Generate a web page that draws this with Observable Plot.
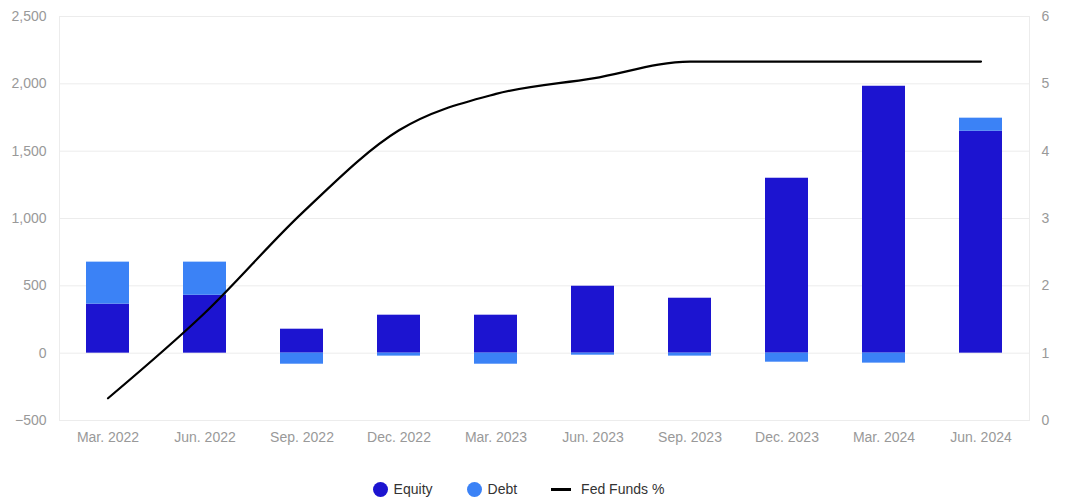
<!DOCTYPE html>
<html><head><meta charset="utf-8">
<script src="https://cdn.jsdelivr.net/npm/d3@7"></script>
<script src="https://cdn.jsdelivr.net/npm/@observablehq/plot@0.6"></script>
<style>
body{margin:0;background:#fff;font-family:"Liberation Sans",Arial,sans-serif;}
#legend{display:flex;justify-content:center;gap:34px;margin-top:21px;font-size:14px;color:#333;padding-right:34px}
#legend span{display:flex;align-items:center;gap:6px}
.dot{width:15px;height:15px;border-radius:50%;display:inline-block}
.ln{width:20px;height:3px;background:#000;display:inline-block;margin-right:4px}
</style></head>
<body>
<div id="chart"></div>
<div id="legend"></div>
<script>
const quarters = ["Mar. 2022","Jun. 2022","Sep. 2022","Dec. 2022","Mar. 2023","Jun. 2023","Sep. 2023","Dec. 2023","Mar. 2024","Jun. 2024"];
const equity = [364, 430, 178, 282, 282, 497, 408, 1299, 1982, 1648];
const debt = [312, 246, -82, -22, -82, -15, -22, -67, -74, 97];
const fedFunds = [0.33, 1.60, 3.08, 4.31, 4.85, 5.08, 5.33, 5.33, 5.33, 5.33];
const leftTicks = [-500, 0, 500, 1000, 1500, 2000, 2500];
const rightTicks = [0, 1, 2, 3, 4, 5, 6];
const seriesNames = ["Equity", "Debt"];
const seriesColors = ["#1c14d0", "#3b82f6"];

const toLeft = v => v * 500 - 500;
const bars = [];
quarters.forEach((q, i) => {
  bars.push({q, s: "Equity", v: equity[i]});
  bars.push({q, s: "Debt", v: debt[i]});
});
const line = quarters.map((q, i) => ({q, v: toLeft(fedFunds[i])}));

const chart = Plot.plot({
  width: 1071, height: 460,
  marginLeft: 59, marginRight: 42, marginTop: 16, marginBottom: 40,
  style: {fontFamily: '"Liberation Sans", Arial, sans-serif', fontSize: "14px", color: "#999"},
  x: {domain: quarters, paddingInner: 0.555, paddingOuter: 0.2775, label: null},
  y: {domain: [-500, 2500], label: null},
  color: {domain: seriesNames, range: seriesColors},
  marks: [
    Plot.ruleY(leftTicks, {stroke: "#ececec", strokeWidth: 1}),
    Plot.frame({stroke: "#ececec"}),
    Plot.axisY(leftTicks, {anchor: "left", tickSize: 0, tickPadding: 13, tickFormat: d3.format(","), label: null, fill: "#999"}),
    Plot.axisY(rightTicks.map(toLeft), {anchor: "right", tickSize: 0, tickPadding: 12, tickFormat: d => String((d + 500) / 500), label: null, fill: "#999"}),
    Plot.axisX({tickSize: 0, tickPadding: 12, label: null, fill: "#999"}),
    Plot.barY(bars, {x: "q", y: "v", fill: "s", order: seriesNames}),
    Plot.line(line, {x: "q", y: "v", stroke: "#000", strokeWidth: 2.2, curve: "monotone-x"})
  ]
});
document.getElementById("chart").appendChild(chart);

const lg = document.getElementById("legend");
seriesNames.forEach((n, i) => {
  const s = document.createElement("span");
  s.innerHTML = `<i class="dot" style="background:${seriesColors[i]}"></i>${n}`;
  lg.appendChild(s);
});
const s = document.createElement("span");
s.innerHTML = `<i class="ln"></i>Fed Funds %`;
lg.appendChild(s);
</script>
</body></html>
